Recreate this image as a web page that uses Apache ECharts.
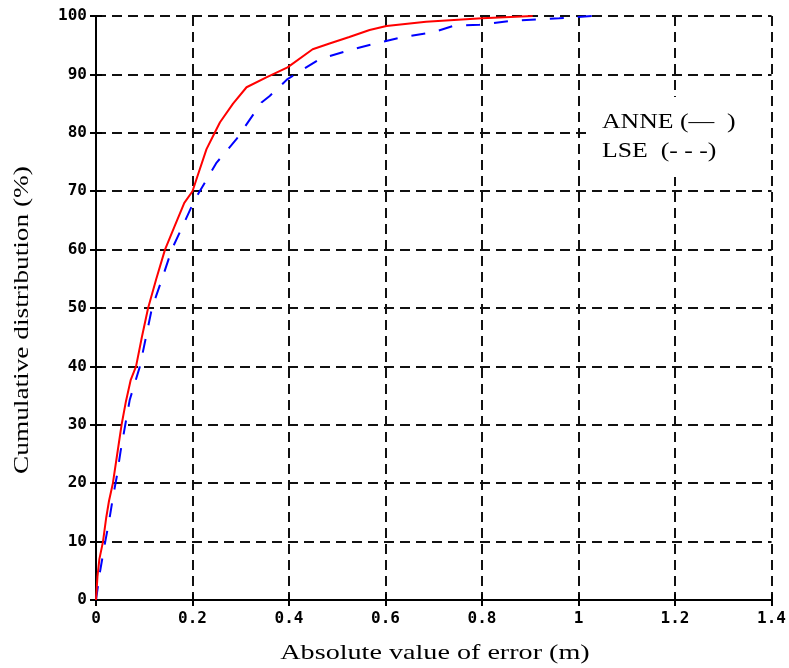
<!DOCTYPE html>
<html>
<head>
<meta charset="UTF-8">
<title>Cumulative distribution</title>
<script src="https://cdn.jsdelivr.net/npm/echarts@6/dist/echarts.min.js"></script>
<style>
    html, body { margin: 0; padding: 0; background: #fff; }
    #main { width: 789px; height: 668px; }
</style>
</head>
<body>
<div id="main"></div>
<script>
    // ANNE (red, solid)
    var anneX = [0, 0.003, 0.007, 0.0145, 0.021, 0.027, 0.035, 0.044, 0.053, 0.062, 0.072, 0.083, 0.095, 0.108, 0.125, 0.143, 0.163, 0.183, 0.2, 0.208, 0.229, 0.246, 0.257, 0.284, 0.312, 0.353, 0.397, 0.449, 0.484, 0.525, 0.567, 0.602, 0.684, 0.8, 0.905];
    var anneY = [0, 4, 7, 10, 14, 17, 20, 25, 30, 34, 37.7, 40, 45, 50, 55, 60, 64, 68, 70, 72, 77.2, 80, 81.8, 85, 87.8, 89.5, 91.2, 94.3, 95.3, 96.4, 97.6, 98.3, 99, 99.6, 100];
    // LSE (blue, dashed)
    var lseX = [0, 0.008, 0.017, 0.0275, 0.036, 0.043, 0.051, 0.06, 0.07, 0.091, 0.116, 0.137, 0.157, 0.185, 0.205, 0.25, 0.291, 0.343, 0.36, 0.397, 0.463, 0.532, 0.58, 0.63, 0.698, 0.74, 0.795, 0.864, 0.96, 1.03];
    var lseY = [0, 4.7, 9, 13.7, 18, 21.1, 25.5, 29.7, 34.3, 40, 50, 55, 60, 65, 68.6, 74.9, 78.9, 85.2, 86.3, 89.2, 92.6, 94.3, 95.3, 96.3, 97.2, 98.3, 98.5, 99.2, 99.6, 100];

    function pairs(xs, ys) {
        return xs.map(function (x, i) { return [x, ys[i]]; });
    }

    var tickFont = { fontFamily: 'DejaVu Sans Mono', fontWeight: 'bold', fontSize: 16, color: '#000' };
    var gridDash = { color: '#111', width: 2, type: [10, 6] };
    var serif = '"Liberation Serif"';

    var myChart = echarts.init(document.getElementById('main'));

    var option = {
        animation: false,
        grid: { left: 96, top: 16, right: 16, bottom: 68 },
        xAxis: [{
            type: 'value', min: 0, max: 1.4, interval: 0.2,
            axisLine: { lineStyle: { color: '#000', width: 2 } },
            axisTick: { inside: true, length: 6, lineStyle: { color: '#000', width: 2 } },
            axisLabel: Object.assign({ margin: 11 }, tickFont),
            splitLine: { show: true, lineStyle: gridDash }
        }, {
            type: 'value', position: 'top', min: 0, max: 1.4, interval: 0.2,
            axisLine: { show: true, lineStyle: { color: '#000', width: 2 } },
            axisTick: { inside: true, length: 6, lineStyle: { color: '#000', width: 2 } },
            axisLabel: { show: false }, splitLine: { show: false }
        }],
        yAxis: [{
            type: 'value', min: 0, max: 100, interval: 10,
            axisLine: { show: true, lineStyle: { color: '#000', width: 2 } },
            axisTick: { show: true, inside: true, length: 6, lineStyle: { color: '#000', width: 2 } },
            axisLabel: Object.assign({ margin: 9 }, tickFont),
            splitLine: { show: true, lineStyle: gridDash }
        }, {
            type: 'value', position: 'right', min: 0, max: 100, interval: 10,
            axisLine: { show: true, lineStyle: { color: '#000', width: 2 } },
            axisTick: { show: true, inside: true, length: 6, lineStyle: { color: '#000', width: 2 } },
            axisLabel: { show: false }, splitLine: { show: false }
        }],
        graphic: [{
            // white box behind the legend text
            type: 'rect', z: 10, shape: { x: 588, y: 97, width: 183, height: 80 },
            style: { fill: '#fff' }
        }, {
            type: 'text', z: 11, x: 602, y: 122, scaleX: 1.17,
            style: { text: 'ANNE (\u2014  )', font: '22px ' + serif, fill: '#000', verticalAlign: 'middle' }
        }, {
            type: 'text', z: 11, x: 602, y: 151, scaleX: 1.17,
            style: { text: 'LSE  (- - -)', font: '22px ' + serif, fill: '#000', verticalAlign: 'middle' }
        }, {
            // x axis title
            type: 'text', z: 11, x: 435, y: 653, scaleX: 1.34,
            style: { text: 'Absolute value of error (m)', font: '21px ' + serif, fill: '#000', align: 'center', verticalAlign: 'middle' }
        }, {
            // y axis title
            type: 'text', z: 11, x: 22, y: 320, rotation: Math.PI / 2, scaleX: 1.3,
            style: { text: 'Cumulative distribution (%)', font: '21px ' + serif, fill: '#000', align: 'center', verticalAlign: 'middle' }
        }],
        series: [{
            name: 'LSE', type: 'line', showSymbol: false, z: 3,
            data: pairs(lseX, lseY),
            lineStyle: { color: '#0000ff', width: 2, type: [14, 14] }
        }, {
            name: 'ANNE', type: 'line', showSymbol: false, z: 4,
            data: pairs(anneX, anneY),
            lineStyle: { color: '#ff0000', width: 2 }
        }]
    };

    myChart.setOption(option);
</script>
</body>
</html>
